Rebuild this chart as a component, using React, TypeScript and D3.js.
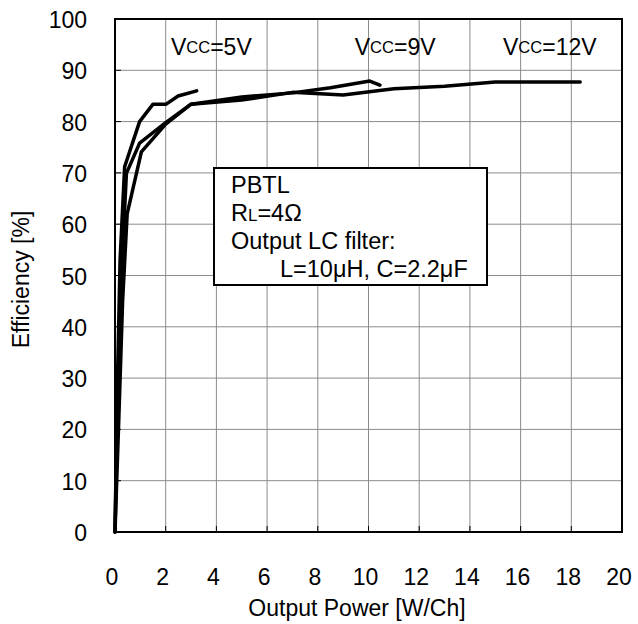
import React from "react";
import * as d3 from "d3";

const xTicks = [0, 2, 4, 6, 8, 10, 12, 14, 16, 18, 20];
const yTicks = [0, 10, 20, 30, 40, 50, 60, 70, 80, 90, 100];

const vcc5X = [0, 0.1, 0.2, 0.38, 0.97, 1.5, 2.02, 2.49, 3.22];
const vcc5Y = [0, 30, 53, 71.2, 80.0, 83.4, 83.4, 85.0, 86.0];

const vcc9X = [0, 0.1, 0.25, 0.45, 0.97, 2.0, 3.0, 5.0, 7.0, 8.5, 10.05, 10.45];
const vcc9Y = [0, 25, 50, 69.9, 75.8, 79.8, 83.4, 84.8, 85.6, 86.6, 87.9, 87.1];

const vcc12X = [0, 0.15, 0.3, 0.48, 1.04, 2.0, 3.0, 5.0, 7.0, 9.0, 11.0, 13.0, 15.0, 18.35];
const vcc12Y = [0, 22, 45, 62.0, 74.1, 79.5, 83.4, 84.2, 85.7, 85.2, 86.4, 86.9, 87.7, 87.7];

const seriesLabels = ["5V", "9V", "12V"];

const W = 638;
const H = 624;
const L = 115;
const R = 622;
const T = 19;
const B = 532;

export default function App() {
  const x = d3.scaleLinear().domain([0, 20]).range([L, R]);
  const y = d3.scaleLinear().domain([0, 100]).range([B, T]);
  const line = d3
    .line<[number, number]>()
    .x((d) => x(d[0]))
    .y((d) => y(d[1]));
  const series = [
    { xs: vcc5X, ys: vcc5Y },
    { xs: vcc9X, ys: vcc9Y },
    { xs: vcc12X, ys: vcc12Y },
  ];
  const labelPos = [
    { px: 3.8, py: 94.5 },
    { px: 11.05, py: 94.5 },
    { px: 17.15, py: 94.5 },
  ];
  const font = "Liberation Sans, Arial, sans-serif";
  const fs = 23;
  const bfs = 23.5;
  const sub = 0.72;
  const bx0 = 214;
  const by0 = 168;
  return (
    <svg
      width={W}
      height={H}
      style={{ position: "absolute", left: 0, top: 0, background: "#fff" }}
      fontFamily={font}
    >
      <rect x={0} y={0} width={W} height={H} fill="#fff" />
      {xTicks.slice(1, -1).map((t) => (
        <line key={"gx" + t} x1={x(t)} x2={x(t)} y1={T} y2={B} stroke="#8c8c8c" strokeWidth={1} />
      ))}
      {yTicks.slice(1, -1).map((t) => (
        <line key={"gy" + t} x1={L} x2={R} y1={y(t)} y2={y(t)} stroke="#8c8c8c" strokeWidth={1} />
      ))}
      {xTicks.slice(1, -1).map((t) => (
        <line key={"tx" + t} x1={x(t)} x2={x(t)} y1={B} y2={B - 6} stroke="#000" strokeWidth={1} />
      ))}
      {yTicks.slice(1, -1).map((t) => (
        <line key={"ty" + t} x1={L} x2={L + 6} y1={y(t)} y2={y(t)} stroke="#000" strokeWidth={1} />
      ))}
      <rect x={bx0} y={by0} width={273} height={117} fill="#fff" stroke="#000" strokeWidth={2} />
      <text x={bx0 + 17} y={by0 + 25} fontSize={bfs} fill="#000">PBTL</text>
      <text x={bx0 + 17} y={by0 + 53} fontSize={bfs} fill="#000">
        R<tspan fontSize={bfs * sub}>L</tspan>=4Ω
      </text>
      <text x={bx0 + 17} y={by0 + 81} fontSize={bfs} fill="#000">Output LC filter:</text>
      <text x={bx0 + 66} y={by0 + 109} fontSize={bfs} fill="#000">L=10μH, C=2.2μF</text>
      {series.map((s, i) => (
        <path
          key={"s" + i}
          d={line(s.xs.map((v, j) => [v, s.ys[j]] as [number, number])) || ""}
          fill="none"
          stroke="#000"
          strokeWidth={3.5}
          strokeLinejoin="round"
          strokeLinecap="round"
        />
      ))}
      {seriesLabels.map((lab, i) => (
        <text
          key={"l" + i}
          x={x(labelPos[i].px)}
          y={y(labelPos[i].py)}
          fontSize={fs}
          textAnchor="middle"
          dominantBaseline="central"
          fill="#000"
        >
          V<tspan fontSize={fs * sub}>CC</tspan>={lab}
        </text>
      ))}
      <rect x={L} y={T} width={R - L} height={B - T} fill="none" stroke="#000" strokeWidth={2} />
      {xTicks.map((t) => (
        <text key={"xl" + t} x={x(t) - 3} y={B + 45} fontSize={fs} textAnchor="middle" dominantBaseline="central" fill="#000">
          {t}
        </text>
      ))}
      {yTicks.map((t) => (
        <text key={"yl" + t} x={L - 28} y={y(t) + 1} fontSize={fs} textAnchor="end" dominantBaseline="central" fill="#000">
          {t}
        </text>
      ))}
      <text x={357} y={B + 76} fontSize={fs} textAnchor="middle" dominantBaseline="central" fill="#000">
        Output Power [W/Ch]
      </text>
      <text
        transform={`translate(21,${(T + B) / 2 + 4}) rotate(-90)`}
        fontSize={fs}
        textAnchor="middle"
        dominantBaseline="central"
        fill="#000"
      >
        Efficiency [%]
      </text>
    </svg>
  );
}
